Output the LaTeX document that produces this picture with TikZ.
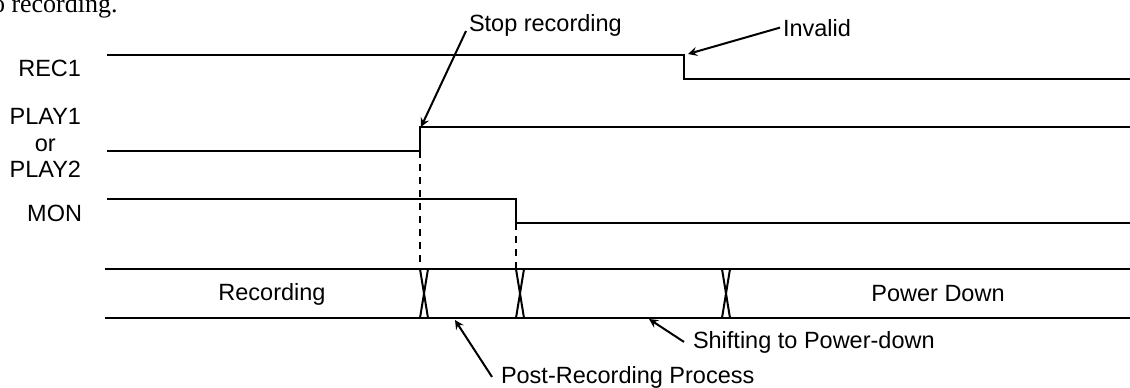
\documentclass[tikz,border=0pt]{standalone}
\usepackage{fontspec}
\setmainfont{Liberation Sans}
\newfontfamily\bodyserif{Liberation Serif}
\begin{document}
\begin{tikzpicture}[x=0.5pt,y=-0.5pt,line width=1pt,
    every node/.style={inner sep=0pt,font=\fontsize{11.75}{13.25}\selectfont},
    sig/.style={anchor=east,align=center}]
    \useasboundingbox (0,0) rectangle (1130,387);
    \node[anchor=base west,font=\bodyserif\fontsize{13}{15}\selectfont] (prev) at (-9,12) {o recording.};
    % signals
    \draw (107,55)--(684,55)--(684,79)--(1130,79);
    \draw (107,151)--(420,151)--(420,127)--(1130,127);
    \draw (107,199)--(516,199)--(516,223)--(1130,223);
    \node[sig] (rec) at (82,68) {REC1};
    \node[sig] (play) at (82,143) {PLAY1\\or\\PLAY2};
    \node[sig] (mon) at (83,213) {MON};
    \draw[dashed,dash pattern=on 3.5pt off 3pt] (420,151)--(420,269);
    \draw[dashed,dash pattern=on 3.5pt off 3pt] (516,223)--(516,269);
    % state bus
    \draw (105,269)--(1130,269);
    \draw (105,318)--(1130,318);
    \foreach \x in {420,516,722}
        \draw (\x,269)--(\x+8,318) (\x+8,269)--(\x,318);
    \node (recording) at (272,294) {Recording};
    \node (powerdown) at (938,294) {Power Down};
    % notes
    \coordinate (stoptip) at (421,127);
    \coordinate (invtip) at (688,54);
    \coordinate (posttip) at (455,320);
    \coordinate (shifttip) at (649,319);
    \node[anchor=base west] (stop) at (468,31) {Stop recording};
    \node[anchor=base west] (inv) at (782,36) {Invalid};
    \node[anchor=base west] (shift) at (692,348) {Shifting to Power-down};
    \node[anchor=base west] (post) at (500,383) {Post-Recording Process};
    \draw[-stealth] ([xshift=-1pt]stop.base west)--(stoptip);
    \draw[-stealth] ([xshift=-1pt]inv.west)--(invtip);
    \draw[-stealth] ([xshift=-4pt]shift.west)--(shifttip);
    \draw[-stealth] ([xshift=-4pt]post.west)--(posttip);
\end{tikzpicture}
\end{document}
